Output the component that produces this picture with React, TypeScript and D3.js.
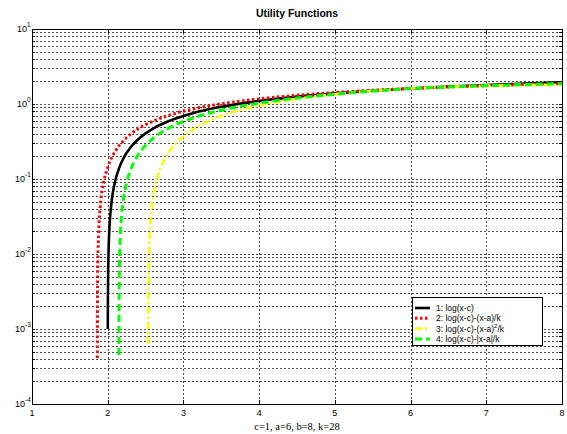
import React from "react";
import * as d3 from "d3";

const logX = [2.001, 2.002, 2.005, 2.01, 2.02, 2.03, 2.05, 2.07, 2.1, 2.15, 2.2, 2.3, 2.4, 2.5, 2.6, 2.8, 3, 3.25, 3.5, 4, 4.5, 5, 5.5, 6, 6.5, 7, 7.5, 8];
const logY = [0.001, 0.002, 0.005, 0.00995, 0.0198, 0.0296, 0.0488, 0.0677, 0.0953, 0.1398, 0.1823, 0.2624, 0.3365, 0.4055, 0.47, 0.5878, 0.6931, 0.8109, 0.9163, 1.0986, 1.2528, 1.3863, 1.5041, 1.6094, 1.7047, 1.7918, 1.8718, 1.9459];

const linX = [1.863, 1.864, 1.866, 1.87, 1.88, 1.9, 1.95, 2, 2.1, 2.2, 2.3, 2.4, 2.5, 2.6, 2.8, 3, 3.25, 3.5, 4, 4.5, 5, 5.5, 6, 6.5, 7, 7.5, 8];
const linY = [0.00041, 0.0016, 0.004, 0.00824, 0.01931, 0.04107, 0.09335, 0.14286, 0.2346, 0.31803, 0.3945, 0.46504, 0.53047, 0.59143, 0.70208, 0.80029, 0.90914, 1.00558, 1.17004, 1.30633, 1.422, 1.52194, 1.60944, 1.68689, 1.75605, 1.81823, 1.87448];

const sqX = [2.536, 2.538, 2.54, 2.545, 2.55, 2.56, 2.58, 2.6, 2.65, 2.7, 2.8, 2.9, 3, 3.25, 3.5, 4, 4.5, 5, 5.5, 6, 6.5, 7, 7.5, 8];
const sqY = [0.00063, 0.00243, 0.00422, 0.0087, 0.01316, 0.02206, 0.03969, 0.05714, 0.09998, 0.1417, 0.22208, 0.29864, 0.37172, 0.54084, 0.69308, 0.95575, 1.1724, 1.35058, 1.49515, 1.60944, 1.69582, 1.75605, 1.79144, 1.80305];

const absX = [2.148, 2.15, 2.155, 2.16, 2.17, 2.2, 2.25, 2.3, 2.4, 2.5, 2.6, 2.8, 3, 3.25, 3.5, 4, 4.5, 5, 5.5, 6, 6.5, 7, 7.5, 8];
const absY = [0.00045, 0.00226, 0.00678, 0.01128, 0.02021, 0.04661, 0.08921, 0.13022, 0.2079, 0.28047, 0.34857, 0.4735, 0.58601, 0.71272, 0.827, 1.02718, 1.19919, 1.35058, 1.48622, 1.60944, 1.68689, 1.75605, 1.81823, 1.87448];

const seriesNames = ["1: log(x-c)", "2: log(x-c)-(x-a)/k", "3: log(x-c)-(x-a)", "4: log(x-c)-|x-a|/k"];
const xTicks = [1, 2, 3, 4, 5, 6, 7, 8];
const yExps = [1, 0, -1, -2, -3, -4];

const font = "Arial, 'Liberation Sans', sans-serif";

export default function App() {
  const W = 567;
  const H = 434;
  const x = d3.scaleLinear().domain([1, 8]).range([32, 562]);
  const y = d3.scaleLog().domain([1e-4, 10]).range([404, 29]);

  const line = d3
    .line<[number, number]>()
    .x((d) => x(d[0]))
    .y((d) => y(d[1]))
    .curve(d3.curveMonotoneX);

  const zip = (a: number[], b: number[]) => a.map((v, i) => [v, b[i]] as [number, number]);

  const styles = [
    { data: zip(logX, logY), color: "#000000", width: 2.6, dash: "none" },
    { data: zip(linX, linY), color: "#ff0000", width: 3, dash: "2.5,2.5" },
    { data: zip(sqX, sqY), color: "#ffff00", width: 2.6, dash: "7,3,2,3" },
    { data: zip(absX, absY), color: "#00ff00", width: 3, dash: "7,4" },
  ];

  // grid values on log axis: every 1..9 in each decade
  const yGrid: number[] = [];
  for (let e = -4; e < 1; e++) {
    for (let m = 1; m < 10; m++) yGrid.push(m * Math.pow(10, e));
  }
  yGrid.push(10);

  const [x0, x1] = x.range();
  const [yb, yt] = y.range();

  const legX = 412;
  const legY = 297;
  const legW = 130;
  const legH = 48;

  return (
    <svg width={W} height={H} style={{ position: "absolute", left: 0, top: 0, background: "#fff" }}>
      <rect x={0} y={0} width={W} height={H} fill="#ffffff" />
      <text x={297} y={17} textAnchor="middle" fontFamily={font} fontWeight="bold" fontSize={10.5}>
        Utility Functions
      </text>

      {/* grid */}
      <g stroke="#222" strokeWidth={0.8} strokeDasharray="2,2">
        {yGrid.map((v, i) => (
          <line key={"gy" + i} x1={x0} x2={x1} y1={Math.round(y(v)) + 0.5} y2={Math.round(y(v)) + 0.5} />
        ))}
        {xTicks.slice(1, -1).map((v) => (
          <line key={"gx" + v} x1={Math.round(x(v)) + 0.5} x2={Math.round(x(v)) + 0.5} y1={yt} y2={yb} />
        ))}
      </g>

      {/* minor ticks on y */}
      <g stroke="#000" strokeWidth={1}>
        {yGrid.map((v, i) => (
          <g key={"ty" + i}>
            <line x1={x0} x2={x0 + 3} y1={Math.round(y(v)) + 0.5} y2={Math.round(y(v)) + 0.5} />
            <line x1={x1 - 3} x2={x1} y1={Math.round(y(v)) + 0.5} y2={Math.round(y(v)) + 0.5} />
          </g>
        ))}
        {xTicks.map((v) => (
          <g key={"tx" + v}>
            <line x1={Math.round(x(v)) + 0.5} x2={Math.round(x(v)) + 0.5} y1={yb} y2={yb - 4} />
            <line x1={Math.round(x(v)) + 0.5} x2={Math.round(x(v)) + 0.5} y1={yt} y2={yt + 4} />
          </g>
        ))}
      </g>

      {/* curves */}
      {styles.map((s, i) => (
        <path
          key={"c" + i}
          d={line(s.data) || ""}
          fill="none"
          stroke={s.color}
          strokeWidth={s.width}
          strokeDasharray={s.dash}
        />
      ))}

      {/* axes box */}
      <rect x={x0 + 0.5} y={yt + 0.5} width={x1 - x0} height={yb - yt} fill="none" stroke="#000" strokeWidth={1} />

      {/* tick labels */}
      <g fontFamily={font} fontSize={9} fill="#000">
        {xTicks.map((v) => (
          <text key={"lx" + v} x={x(v)} y={416} textAnchor="middle">
            {v}
          </text>
        ))}
        {yExps.map((e) => (
          <text key={"ly" + e} x={e < 0 ? 15 : 17} y={y(Math.pow(10, e)) + 3}>
            10
            <tspan dy={-5} fontSize={6.5}>
              {e}
            </tspan>
          </text>
        ))}
      </g>

      <text x={297} y={430} textAnchor="middle" fontFamily="'Liberation Serif', 'Times New Roman', serif" fontSize={10.5}>
        c=1, a=6, b=8, k=28
      </text>

      {/* legend */}
      <rect x={legX + 0.5} y={legY + 0.5} width={legW} height={legH} fill="#fff" stroke="#000" strokeWidth={1} />
      {styles.map((s, i) => {
        const ly = legY + 11 + i * 10.3;
        return (
          <g key={"lg" + i}>
            <line
              x1={legX + 3}
              x2={legX + 18}
              y1={ly}
              y2={ly}
              stroke={s.color}
              strokeWidth={s.width}
              strokeDasharray={s.dash}
            />
            <text x={legX + 24} y={ly + 3} fontFamily={font} fontSize={8.5}>
              {seriesNames[i]}
              {i === 2 ? (
                <>
                  <tspan dy={-4} fontSize={6}>
                    2
                  </tspan>
                  <tspan dy={4}>/k</tspan>
                </>
              ) : null}
            </text>
          </g>
        );
      })}
    </svg>
  );
}
